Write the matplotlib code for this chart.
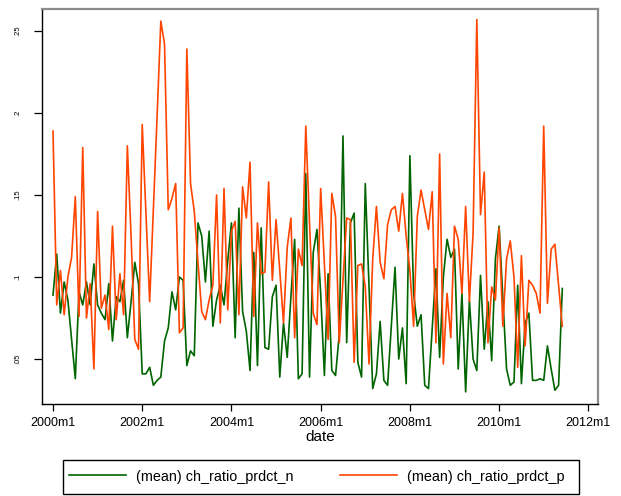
#!/usr/bin/env python3
"""
medias mensuales de ch_ratio_prdct_n y ch_ratio_prdct_p, 2000m1-2011m6
"""

import numpy as np
import matplotlib
matplotlib.use('Agg')
import matplotlib.pyplot as plt
from matplotlib.patches import Rectangle

plt.rcParams['font.family'] = ['Liberation Sans', 'DejaVu Sans']

# meses desde 2000m1
mes = np.arange(138)

ratio_n = [
    0.089, 0.114, 0.078, 0.097, 0.086, 0.062, 0.038, 0.091, 0.083, 0.097, 0.083, 0.108,
    0.083, 0.078, 0.074, 0.096, 0.061, 0.088, 0.085, 0.098, 0.063, 0.085, 0.109, 0.096,
    0.041, 0.041, 0.045, 0.034, 0.037, 0.039, 0.061, 0.069, 0.091, 0.080, 0.100, 0.098,
    0.046, 0.055, 0.052, 0.133, 0.125, 0.097, 0.128, 0.070, 0.086, 0.095, 0.083, 0.110,
    0.133, 0.063, 0.142, 0.079, 0.067, 0.043, 0.115, 0.046, 0.130, 0.057, 0.056, 0.088,
    0.095, 0.039, 0.072, 0.051, 0.088, 0.123, 0.038, 0.041, 0.163, 0.039, 0.115, 0.129,
    0.090, 0.040, 0.102, 0.043, 0.040, 0.065, 0.186, 0.060, 0.133, 0.139, 0.048, 0.039,
    0.157, 0.094, 0.032, 0.041, 0.073, 0.037, 0.034, 0.070, 0.106, 0.050, 0.069, 0.035,
    0.174, 0.090, 0.070, 0.077, 0.034, 0.032, 0.069, 0.105, 0.051, 0.100, 0.123, 0.112,
    0.117, 0.044, 0.090, 0.030, 0.086, 0.050, 0.043, 0.101, 0.056, 0.085, 0.049, 0.111,
    0.131, 0.088, 0.044, 0.034, 0.036, 0.095, 0.035, 0.072, 0.078, 0.037, 0.037, 0.038,
    0.037, 0.058, 0.044, 0.031, 0.034, 0.093,
]

ratio_p = [
    0.189, 0.083, 0.104, 0.077, 0.100, 0.112, 0.149, 0.076, 0.179, 0.075, 0.096, 0.044,
    0.140, 0.081, 0.089, 0.068, 0.131, 0.074, 0.102, 0.077, 0.180, 0.125, 0.062, 0.056,
    0.193, 0.139, 0.085, 0.141, 0.198, 0.256, 0.242, 0.141, 0.148, 0.157, 0.066, 0.069,
    0.239, 0.157, 0.140, 0.109, 0.079, 0.074, 0.086, 0.095, 0.150, 0.072, 0.154, 0.080,
    0.128, 0.134, 0.077, 0.155, 0.136, 0.170, 0.076, 0.133, 0.102, 0.103, 0.158, 0.098,
    0.135, 0.104, 0.072, 0.118, 0.136, 0.063, 0.117, 0.107, 0.192, 0.133, 0.078, 0.071,
    0.154, 0.108, 0.062, 0.151, 0.137, 0.060, 0.098, 0.136, 0.135, 0.048, 0.107, 0.108,
    0.094, 0.047, 0.111, 0.143, 0.109, 0.099, 0.132, 0.141, 0.143, 0.128, 0.151, 0.125,
    0.104, 0.070, 0.137, 0.153, 0.141, 0.129, 0.152, 0.060, 0.175, 0.047, 0.090, 0.063,
    0.131, 0.123, 0.090, 0.143, 0.085, 0.127, 0.257, 0.138, 0.164, 0.060, 0.094, 0.086,
    0.130, 0.070, 0.111, 0.122, 0.100, 0.045, 0.113, 0.058, 0.098, 0.095, 0.090, 0.078,
    0.192, 0.084, 0.117, 0.120, 0.095, 0.070,
]

xticks = [0, 24, 48, 72, 96, 120, 144]
xlabels = ['2000m1', '2002m1', '2004m1', '2006m1', '2008m1', '2010m1', '2012m1']
yticks = [0.05, 0.10, 0.15, 0.20, 0.25]
ylabels = ['.05', '.1', '.15', '.2', '.25']

W, H = 621, 496
fig = plt.figure(figsize=(W/100, H/100), dpi=100)
ax = fig.add_axes([42/W, 92/H, 556/W, 395/H])

l1, = ax.plot(mes, ratio_n, color='#006400', lw=1.2)
l2, = ax.plot(mes, ratio_p, color='#ff4500', lw=1.2)

ax.set_xlim(-2.96, 146.6)
ax.set_ylim(0.0226, 0.2634)

ax.set_xticks(xticks)
ax.set_xticklabels(xlabels, fontsize=9)
ax.set_yticks(yticks)
ax.set_yticklabels(ylabels, fontsize=5.5, rotation=90, va='center')
ax.tick_params(axis='x', length=5, width=0.9, pad=4)
ax.tick_params(axis='y', length=6, width=0.9, pad=9)
ax.set_xlabel('date', fontsize=11, labelpad=1)

for lado in ['left', 'bottom']:
    ax.spines[lado].set_color('black')
    ax.spines[lado].set_linewidth(1.0)
for lado in ['top', 'right']:
    ax.spines[lado].set_color('#8c8c8c')
    ax.spines[lado].set_linewidth(1.6)

# leyenda sin marco propio, el recuadro va aparte
leg = fig.legend([l1, l2], ['(mean) ch_ratio_prdct_n', '(mean) ch_ratio_prdct_p'],
                 loc='center left', bbox_to_anchor=(69/W, 1 - 476.5/H), ncol=2,
                 fontsize=10.4, handlelength=3.95, handletextpad=0.69, columnspacing=3.2,
                 frameon=False, borderpad=0, borderaxespad=0)
caja = Rectangle((62.5/W, 1 - 494/H), (579 - 62.5)/W, (494 - 459.5)/H,
                 transform=fig.transFigure, fill=False, edgecolor='black', lw=1.0)
fig.patches.append(caja)

fig.savefig('out.png', dpi=100)
